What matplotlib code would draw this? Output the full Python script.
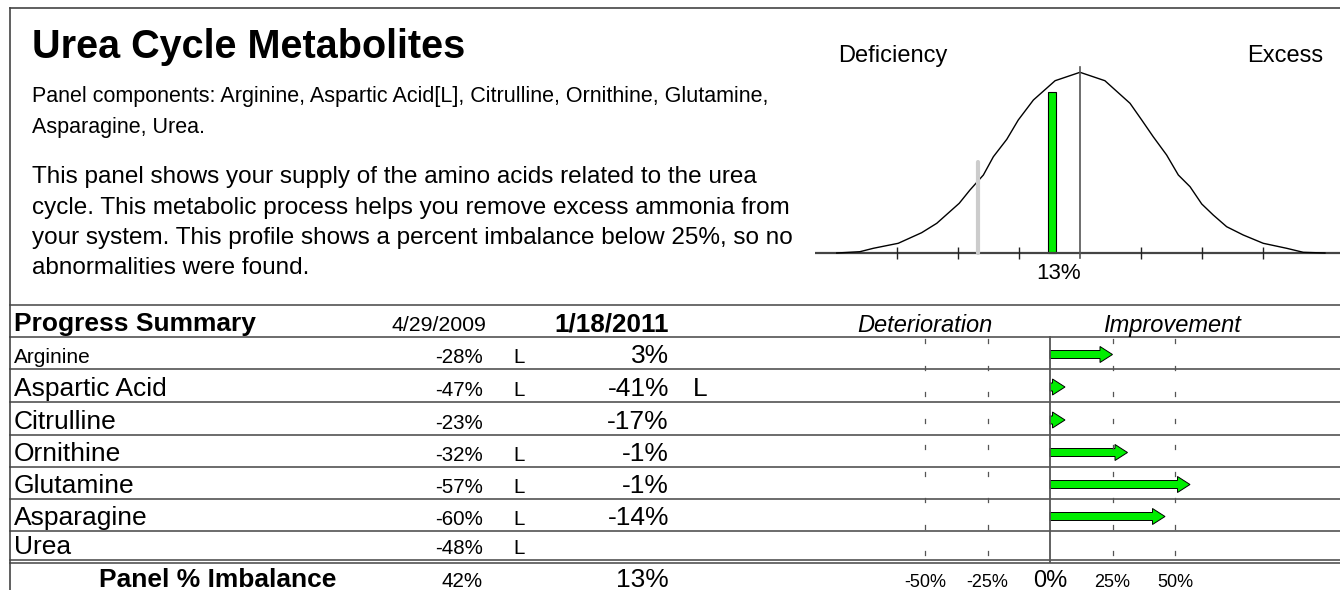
import numpy as np
import matplotlib.pyplot as plt
from matplotlib.patches import FancyArrow

plt.rcParams['font.family'] = ['Liberation Sans', 'DejaVu Sans']

# --- data ---
title = 'Urea Cycle Metabolites'
components = ['Panel components: Arginine, Aspartic Acid[L], Citrulline, Ornithine, Glutamine,',
              'Asparagine, Urea.']
summary = ['This panel shows your supply of the amino acids related to the urea',
           'cycle. This metabolic process helps you remove excess ammonia from',
           'your system. This profile shows a percent imbalance below 25%, so no',
           'abnormalities were found.']

names = ['Arginine', 'Aspartic Acid', 'Citrulline', 'Ornithine', 'Glutamine', 'Asparagine', 'Urea']
old_pct = [-28, -47, -23, -32, -57, -60, -48]
old_flag = ['L', 'L', '', 'L', 'L', 'L', 'L']
new_pct = [3, -41, -17, -1, -1, -14, None]
new_flag = ['', 'L', '', '', '', '', '']
old_date = '4/29/2009'
new_date = '1/18/2011'
imbalance_old = 42
imbalance_new = 13

# bell curve outline (percent, height)
curve_x = [-99.7, -90.2, -84.7, -74.5, -64.9, -58.7, -49.5, -45.1, -39.6, -35.5, -30.0, -25.3, -19.1,
           -10.2, 0, 10.2, 20.5, 25.3, 30.0, 35.5, 40.3, 45.1, 49.9, 54.6, 60.1, 66.9, 75.1, 84.7, 91.5, 100.4]
curve_h = [0, 1.3, 4.7, 9.7, 20.3, 29.7, 49.7, 63, 78, 96.3, 113.7, 133, 153,
           172.3, 180.7, 172.3, 149.7, 133, 116.3, 98, 78, 66.3, 49, 38, 26.3, 18, 9.7, 4.7, 0.7, 0]
bell_ticks = [-75, -50, -25, 25, 50, 75]
bar_new_h = 161
bar_old_h = 91

arrow_ticks = [-50, -25, 25, 50]
arrow_labels = [-50, -25, 0, 25, 50]

W, H = 1340, 590
fig = plt.figure(figsize=(W / 100, H / 100), dpi=100)


def px_axes(x0, y0, x1, y1):
    return fig.add_axes([x0 / W, 1 - y1 / H, (x1 - x0) / W, (y1 - y0) / H])


line_c = '#444444'
green = '#00ee00'

ax = px_axes(0, 0, W, H)
ax.set_xlim(0, W)
ax.set_ylim(H, 0)
ax.axis('off')

# frame
ax.plot([10, W], [8, 8], color=line_c, lw=1.2)
ax.plot([10, 10], [8, H], color=line_c, lw=1.2)

# header text
ax.text(32, 58, title, fontsize=28.5, fontweight='bold', va='baseline')
for i, s in enumerate(components):
    ax.text(32, 102 + 31 * i, s, fontsize=15.5, va='baseline')
for s, y in zip(summary, [183, 214, 244, 274]):
    ax.text(32, y, s, fontsize=17.5, va='baseline')

ax.text(838, 62, 'Deficiency', fontsize=17, va='baseline')
ax.text(1323, 62, 'Excess', fontsize=17, va='baseline', ha='right')
ax.text(1059, 279, f'{imbalance_new}%', fontsize=16, va='baseline', ha='center')

# table grid
row_lines = [305, 337, 369, 402, 435, 467, 499, 531, 560]
for y in row_lines + [563]:
    ax.plot([10, W], [y, y], color=line_c, lw=1.1)

ax.text(14, 331, 'Progress Summary', fontsize=19, fontweight='bold', va='baseline')
ax.text(486, 331, old_date, fontsize=15.3, va='baseline', ha='right')
ax.text(669, 331, new_date, fontsize=18.8, fontweight='bold', va='baseline', ha='right')
ax.text(857, 332, 'Deterioration', fontsize=17, style='italic', va='baseline')
ax.text(1103, 332, 'Improvement', fontsize=17, style='italic', va='baseline')

for i, name in enumerate(names):
    yb = row_lines[i + 2] - 6
    ax.text(14, yb, name, fontsize=15 if i == 0 else 19, va='baseline')
    ax.text(483, yb, f'{old_pct[i]}%', fontsize=14.8, va='baseline', ha='right')
    ax.text(513, yb, old_flag[i], fontsize=14.8, va='baseline')
    if new_pct[i] is not None:
        ax.text(669, yb, f'{new_pct[i]}%', fontsize=19, va='baseline', ha='right')
    ax.text(693, yb, new_flag[i], fontsize=19, va='baseline')

ax.text(218, 587, 'Panel % Imbalance', fontsize=19, fontweight='bold', va='baseline', ha='center')
ax.text(483, 587, f'{imbalance_old}%', fontsize=14.8, va='baseline', ha='right')
ax.text(669, 587, f'{imbalance_new}%', fontsize=19, va='baseline', ha='right')

# --- bell curve ---
bx = px_axes(815, 40, W, 275)
bx.set_xlim((815 - 1080) / 2.44, (W - 1080) / 2.44)
bx.set_ylim(-22, 213)
bx.axis('off')
bx.plot([(815 - 1080) / 2.44, (W - 1080) / 2.44], [0, 0], color=line_c, lw=1.6)
bx.plot(curve_x, curve_h, color='black', lw=1)
bx.plot([0, 0], [-5, 186], color='#555555', lw=1.2)
bx.vlines(bell_ticks, -6, 6, color='#222222', lw=1)
bx.plot([-imbalance_old] * 2, [0, bar_old_h], color='#cccccc', lw=3, solid_capstyle='round')
bx.bar(-imbalance_new, bar_new_h, width=3.3, align='edge', color=green, edgecolor='black', lw=0.8)

# --- progress arrows ---
cx = px_axes(820, 0, W, H)
cx.set_xlim((820 - 1050) / 2.5, (W - 1050) / 2.5)
cx.set_ylim(H, 0)
cx.axis('off')
cx.plot([0, 0], [337, 562], color='#555555', lw=1.3)
for t in arrow_ticks:
    for yc in np.linspace(341, 553, 9):
        cx.plot([t, t], [yc - 2, yc + 2], color='#555555', lw=0.9)

for i in range(len(names)):
    if new_pct[i] is None:
        continue
    gain = abs(old_pct[i]) - abs(new_pct[i])
    yc = (row_lines[i + 1] + row_lines[i + 2]) / 2 + 1.5
    cx.add_patch(FancyArrow(0, yc, gain, 0, width=8, head_width=16, head_length=5,
                            length_includes_head=True, fc=green, ec='black', lw=0.7))

for t in arrow_labels:
    cx.text(t, 587, f'{t}%', fontsize=17 if t == 0 else 13, ha='center', va='baseline')

fig.savefig('out.png', dpi=100)
